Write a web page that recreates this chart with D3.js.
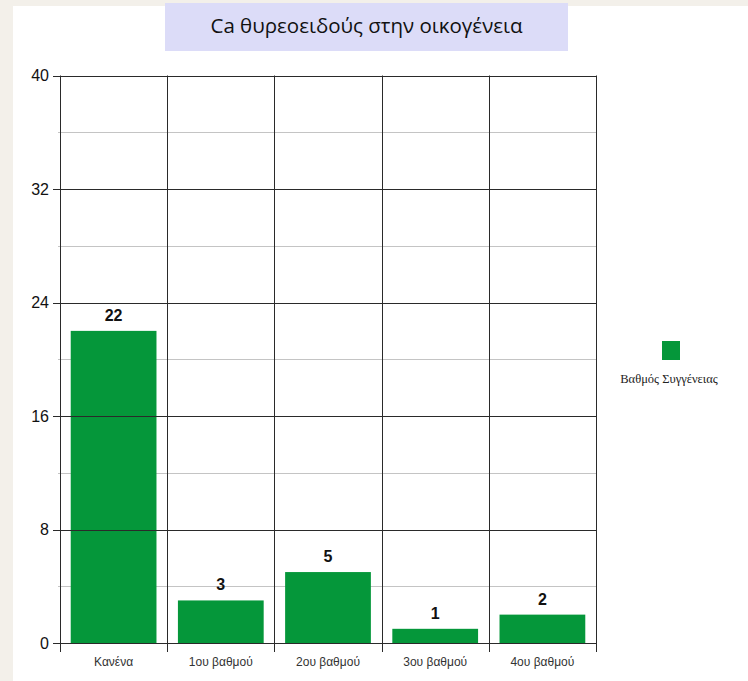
<!DOCTYPE html>
<html>
<head>
<meta charset="utf-8">
<script src="https://cdn.jsdelivr.net/npm/d3@7"></script>
<style>
  body { margin: 0; background: #f3f0ea; }
  svg { display: block; }
  .grid-major { stroke: #2a2a2a; stroke-width: 1; }
  .grid-minor { stroke: #c4c4c4; stroke-width: 1; }
  .ylab { font-family: "Liberation Sans", Arial, sans-serif; font-size: 16px; fill: #111; }
  .xlab { font-family: "Liberation Sans", Arial, sans-serif; font-size: 12px; fill: #333; }
  .val { font-family: "Liberation Sans", Arial, sans-serif; font-size: 16px; font-weight: bold; fill: #111; }
</style>
</head>
<body>
<svg width="748" height="681"></svg>
<script>
const TITLE = "Ca θυρεοειδούς στην οικογένεια";
const LEGEND_LABEL = "Βαθμός Συγγένειας";
const categories = ["Κανένα", "1ου βαθμού", "2ου βαθμού", "3ου βαθμού", "4ου βαθμού"];
const values = [22, 3, 5, 1, 2];
const majorTicks = [0, 8, 16, 24, 32, 40];
const minorTicks = [4, 12, 20, 28, 36];

const BAR_COLOR = "#05973a";

var svg = d3.select("svg"),
	width = +svg.attr("width"),
	height = +svg.attr("height");

var margin = {left: 60, right: 152, top: 75.5, bottom: 38};

// white panel on beige page
svg.append("rect")
	.attr("x", 13).attr("y", 6)
	.attr("width", width - 13).attr("height", height - 6)
	.attr("fill", "#fff");

// title box
svg.append("rect")
	.attr("x", 165).attr("y", 3)
	.attr("width", 403).attr("height", 48)
	.attr("fill", "#dcdcf8");
svg.append("text")
	.attr("x", 366.5).attr("y", 33)
	.attr("text-anchor", "middle")
	.style("font-family", "'Open Sans', 'Noto Sans', sans-serif")
	.style("font-size", "20.5px")
	.style("fill", "#111")
	.text(TITLE);

var x = d3.scaleBand()
	.domain(categories)
	.range([margin.left, width - margin.right])
	.paddingInner(0.2)
	.paddingOuter(0.1);

var y = d3.scaleLinear()
	.domain([0, 40])
	.range([height - margin.bottom, margin.top]);

var x0 = margin.left, x1 = width - margin.right;

// minor gridlines
svg.append("g").selectAll("line")
	.data(minorTicks)
	.enter().append("line")
	.attr("class", "grid-minor")
	.attr("x1", x0 - 2).attr("x2", x1)
	.attr("y1", function (d) { return Math.round(y(d)) + 0.5; })
	.attr("y2", function (d) { return Math.round(y(d)) + 0.5; });

// bars
svg.append("g").selectAll("rect")
	.data(values)
	.enter().append("rect")
	.attr("x", function (d, i) { return x(categories[i]); })
	.attr("width", x.bandwidth())
	.attr("y", function (d) { return y(d); })
	.attr("height", function (d) { return y(0) - y(d); })
	.attr("fill", BAR_COLOR);

// major gridlines
svg.append("g").selectAll("line")
	.data(majorTicks)
	.enter().append("line")
	.attr("class", "grid-major")
	.attr("x1", x0 - 7).attr("x2", x1)
	.attr("y1", function (d) { return Math.round(y(d)) + 0.5; })
	.attr("y2", function (d) { return Math.round(y(d)) + 0.5; });

// vertical category separators (with ticks below axis)
var seps = categories.map(function (c) { return x(c) - (x.step() - x.bandwidth()) / 2; });
seps.push(x1);
svg.append("g").selectAll("line")
	.data(seps)
	.enter().append("line")
	.attr("class", "grid-major")
	.attr("x1", function (d) { return Math.round(d) + 0.5; })
	.attr("x2", function (d) { return Math.round(d) + 0.5; })
	.attr("y1", y(40))
	.attr("y2", y(0) + 9);

// y labels
svg.append("g").selectAll("text")
	.data(majorTicks)
	.enter().append("text")
	.attr("class", "ylab")
	.attr("x", 49)
	.attr("y", function (d) { return y(d); })
	.attr("dy", "0.36em")
	.attr("text-anchor", "end")
	.text(function (d) { return d; });

// x labels
svg.append("g").selectAll("text")
	.data(categories)
	.enter().append("text")
	.attr("class", "xlab")
	.attr("x", function (d) { return x(d) + x.bandwidth() / 2; })
	.attr("y", y(0) + 23)
	.attr("text-anchor", "middle")
	.text(function (d) { return d; });

// value labels
svg.append("g").selectAll("text")
	.data(values)
	.enter().append("text")
	.attr("class", "val")
	.attr("x", function (d, i) { return x(categories[i]) + x.bandwidth() / 2; })
	.attr("y", function (d) { return y(d) - 10; })
	.attr("text-anchor", "middle")
	.text(function (d) { return d; });

// legend
svg.append("rect")
	.attr("x", 662).attr("y", 341)
	.attr("width", 18).attr("height", 19)
	.attr("fill", BAR_COLOR);
svg.append("text")
	.attr("x", 669).attr("y", 383)
	.attr("text-anchor", "middle")
	.style("font-family", "'Liberation Serif', 'Times New Roman', serif")
	.style("font-size", "12.5px")
	.style("fill", "#222")
	.text(LEGEND_LABEL);
</script>
</body>
</html>
